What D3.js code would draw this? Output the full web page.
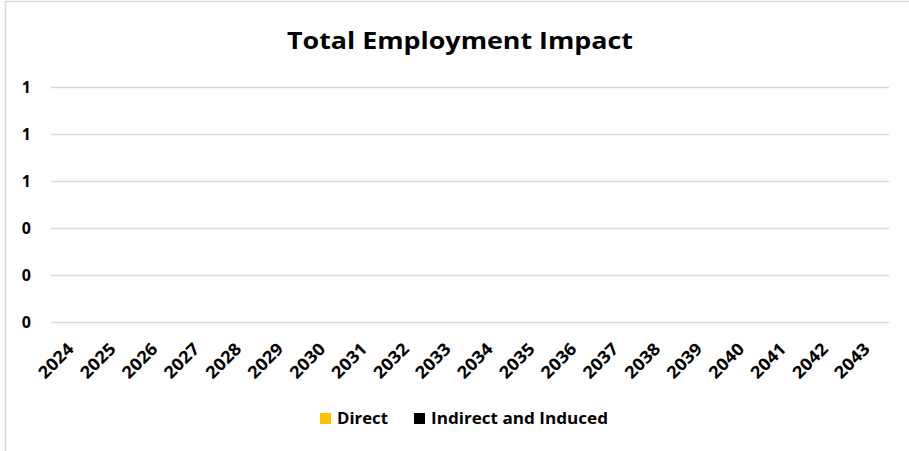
<!DOCTYPE html>
<html><head><meta charset="utf-8">
<script src="https://cdn.jsdelivr.net/npm/d3@7"></script>
<style>
html,body{margin:0;padding:0;background:#fff;}
text{font-family:"Open Sans",Lato,sans-serif;font-weight:bold;fill:#000;}
</style></head>
<body><svg id="c" width="909" height="451"></svg>
<script>
const categories = ["2024","2025","2026","2027","2028","2029","2030","2031","2032","2033","2034","2035","2036","2037","2038","2039","2040","2041","2042","2043"];
const direct = [0,0,0,0,0,0,0,0,0,0,0,0,0,0,0,0,0,0,0,0];
const indirectInduced = [0,0,0,0,0,0,0,0,0,0,0,0,0,0,0,0,0,0,0,0];
const yTicks = [0,0.2,0.4,0.6,0.8,1];
const seriesNames = ["Direct","Indirect and Induced"];
const colors = ["#FFC000","#000000"];

const svg = d3.select("#c");
svg.append("rect").attr("x",5.5).attr("y",1.5).attr("width",920).attr("height",470)
  .attr("fill","#fff").attr("stroke","#d9d9d9").attr("stroke-width",1.5);

const m = {l:51,r:889,t:87,b:322};
const x = d3.scaleBand().domain(categories).range([m.l,m.r]).paddingInner(0.5).paddingOuter(0.25);
const y = d3.scaleLinear().domain([0,1]).range([m.b,m.t]);

// gridlines
svg.append("g").selectAll("line").data(yTicks).join("line")
  .attr("x1",m.l).attr("x2",m.r).attr("y1",d=>Math.round(y(d))+0.5).attr("y2",d=>Math.round(y(d))+0.5)
  .attr("stroke","#d9d9d9").attr("stroke-width",1.5);

// y labels
const ya = svg.append("g").attr("transform",`translate(31,0)`)
  .call(d3.axisLeft(y).tickValues(yTicks).tickFormat(d3.format(".0f")).tickSize(0).tickPadding(0));
ya.select(".domain").remove();
ya.selectAll("text").attr("font-size",16).attr("dy","0.36em")
  .style("font-family","'Open Sans',sans-serif").style("font-weight","bold");

// stacked bars (all zero)
const stack = d3.stack().keys([0,1]).value((d,k)=>k===0?direct[d]:indirectInduced[d]);
const layers = stack(categories.map((c,i)=>i));
svg.append("g").selectAll("g").data(layers).join("g").attr("fill",(d,i)=>colors[i])
  .selectAll("rect").data(d=>d).join("rect")
  .attr("x",(d,i)=>x(categories[i])).attr("width",x.bandwidth())
  .attr("y",d=>y(d[1])).attr("height",d=>y(d[0])-y(d[1]));

// x labels
const xa = svg.append("g").attr("transform",`translate(0,${m.b})`)
  .call(d3.axisBottom(x).tickSize(0).tickPadding(0));
xa.select(".domain").remove();
xa.selectAll("text").attr("font-size",17).attr("y",0).attr("dy",0)
  .style("font-family","'Open Sans',sans-serif").style("font-weight","bold")
  .attr("text-anchor","end").attr("textLength",42).attr("lengthAdjust","spacingAndGlyphs")
  .attr("transform","translate(3,28) rotate(-45)");

// title
svg.append("text").attr("x",460).attr("y",49).attr("text-anchor","middle")
  .attr("font-size",23.5).attr("textLength",346).attr("lengthAdjust","spacingAndGlyphs")
  .text("Total Employment Impact");

// legend
const leg = svg.append("g");
const lx = [320,414];
const lw = [51,177];
seriesNames.forEach((n,i)=>{
  leg.append("rect").attr("x",lx[i]).attr("y",413).attr("width",11).attr("height",11).attr("fill",colors[i]);
  leg.append("text").attr("x",lx[i]+17).attr("y",424).attr("font-size",16)
    .attr("textLength",lw[i]).attr("lengthAdjust","spacingAndGlyphs").text(n);
});
</script></body></html>
